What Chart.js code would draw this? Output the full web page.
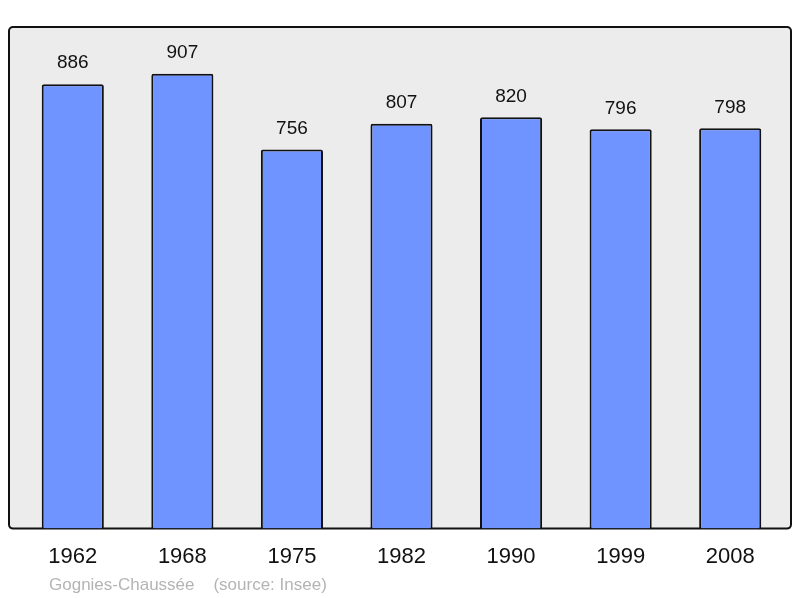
<!DOCTYPE html>
<html>
<head>
<meta charset="utf-8">
<script src="https://cdn.jsdelivr.net/npm/chart.js@4"></script>
<style>
  html, body { margin: 0; padding: 0; background: #fff; }
  #wrap { width: 800px; height: 598px; position: relative; }
</style>
</head>
<body>
<div id="wrap"><canvas id="popChart"></canvas></div>
<script>
// Population by census year
const YEARS = ['1962', '1968', '1975', '1982', '1990', '1999', '2008'];
const POP = [886, 907, 756, 807, 820, 796, 798];
const Y_MIN = 0;
const Y_MAX = 1000;
const SOURCE_TEXT = 'Gognies-Chaussée    (source: Insee)';

const fontFam = '"Liberation Sans", Arial, sans-serif';

// grey frame behind the bars
const frameBox = {
  id: 'frameBox',
  beforeDatasetsDraw(chart) {
    const { ctx, chartArea: a } = chart;
    const x = a.left - 9, y = a.top, w = a.right - a.left + 15, h = a.bottom - a.top;
    ctx.save();
    ctx.beginPath();
    ctx.roundRect(x, y, w, h, 4);
    ctx.fillStyle = '#ececec';
    ctx.fill();
    ctx.lineWidth = 2;
    ctx.strokeStyle = '#111';
    ctx.stroke();
    ctx.restore();
  }
};

const valueLabels = {
  id: 'valueLabels',
  afterDatasetsDraw(chart) {
    const ctx = chart.ctx;
    const meta = chart.getDatasetMeta(0);
    ctx.save();
    ctx.font = '19px ' + fontFam;
    ctx.fillStyle = '#111';
    ctx.textAlign = 'center';
    ctx.textBaseline = 'middle';
    meta.data.forEach((bar, i) => {
      ctx.fillText(String(POP[i]), bar.x, bar.y - 21);
    });
    ctx.restore();
  },
  afterDraw(chart) {
    const ctx = chart.ctx;
    ctx.save();
    ctx.font = '17px ' + fontFam;
    ctx.fillStyle = '#b4b4b4';
    ctx.textAlign = 'left';
    ctx.textBaseline = 'alphabetic';
    ctx.fillText(SOURCE_TEXT, 49, 590);
    ctx.restore();
  }
};

new Chart(document.getElementById('popChart'), {
  type: 'bar',
  data: {
    labels: YEARS,
    datasets: [{
      data: POP,
      backgroundColor: '#7094ff',
      borderColor: '#111',
      borderWidth: 2,
      borderSkipped: 'bottom',
      borderRadius: { topLeft: 2, topRight: 2, bottomLeft: 0, bottomRight: 0 },
      barPercentage: 0.567,
      categoryPercentage: 1
    }]
  },
  options: {
    responsive: true,
    maintainAspectRatio: false,
    animation: false,
    layout: { padding: { top: 27, left: 18, right: 15, bottom: 13 } },
    plugins: {
      legend: { display: false },
      tooltip: { enabled: false }
    },
    scales: {
      x: {
        grid: { display: false, drawTicks: false },
        border: { display: false },
        ticks: { font: { size: 22, family: fontFam }, color: '#111', padding: 15 }
      },
      y: {
        display: false,
        min: Y_MIN, max: Y_MAX
      }
    }
  },
  plugins: [frameBox, valueLabels]
});
</script>
</body>
</html>
